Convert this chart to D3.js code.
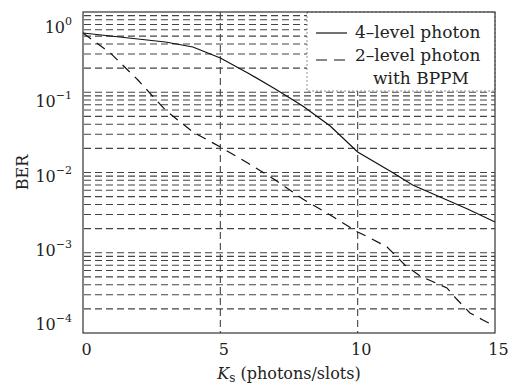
<!DOCTYPE html>
<html lang="en">
<head>
<meta charset="UTF-8">
<title>BER vs Ks</title>
<script src="https://d3js.org/d3.v7.min.js"></script>
<style>
	body { margin: 0; padding: 0; background: #fff; }
	text { font-family: "DejaVu Serif", "Liberation Serif", serif; fill: #222; }
</style>
</head>
<body>
<div id="chart"></div>
<script>
	// photon counts per slot
	const ksFour = [0, 1, 2, 3, 4, 5, 6, 7, 8, 9, 10, 11.3, 12, 13, 14, 15];
	const berFour = [0.547, 0.502, 0.461, 0.423, 0.366, 0.267, 0.174, 0.110, 0.0674, 0.038, 0.018, 0.00986, 0.00699, 0.00495, 0.00351, 0.00242];

	const ksTwo = [0, 1, 2, 3, 4, 5, 6, 7, 8, 9, 10, 10.45, 11.07, 11.36, 11.72, 12.27, 13.25, 13.6, 14.09, 14.56, 15];
	const berTwo = [0.547, 0.308, 0.142, 0.060, 0.032, 0.0208, 0.0131, 0.00807, 0.00468, 0.00295, 0.00181, 0.00153, 0.00118, 0.000938, 0.000704, 0.000513, 0.000364, 0.000265, 0.000178, 0.000145, 0.000122];

	const xTicks = [0, 5, 10, 15];
	const yExponents = [0, -1, -2, -3, -4];
	const legendLabels = ["4\u2013level photon", "2\u2013level photon", "with BPPM"];

	const width = 512, height = 386;
	const mLeft = 83, mRight = 495, mTop = 12, mBottom = 333;

	const svg = d3.select("#chart").append("svg")
		.attr("width", width)
		.attr("height", height);

	svg.append("rect").attr("width", width).attr("height", height).attr("fill", "#fff");

	const x = d3.scaleLinear().domain([0, 15]).range([mLeft, mRight]);
	const y = d3.scaleLog().domain([1e-4, 1]).range([mBottom, mTop]);
	// tick labels in the printed figure sit on an evenly spaced ladder of their own
	const yLabel = d3.scaleLinear().domain([-4, 0]).range([324, 27]);

	// horizontal grid (major + minor decades)
	const hGrid = y.ticks().filter(v => v > 1e-4 && v < 1);
	svg.append("g").selectAll("line")
		.data(hGrid)
		.enter().append("line")
		.attr("x1", mLeft + 1)
		.attr("x2", mRight)
		.attr("y1", d => y(d))
		.attr("y2", d => y(d))
		.attr("stroke", "#444")
		.attr("stroke-width", 1.1)
		.attr("stroke-dasharray", "7,4");

	// vertical grid
	svg.append("g").selectAll("line")
		.data([5, 10])
		.enter().append("line")
		.attr("x1", d => x(d))
		.attr("x2", d => x(d))
		.attr("y1", mTop)
		.attr("y2", mBottom)
		.attr("stroke", "#444")
		.attr("stroke-width", 1.1)
		.attr("stroke-dasharray", "7,4");

	const line = d3.line()
		.x(d => x(d[0]))
		.y(d => y(d[1]));

	svg.append("path")
		.datum(d3.zip(ksFour, berFour))
		.attr("d", line)
		.attr("fill", "none")
		.attr("stroke", "#111")
		.attr("stroke-width", 1.2);

	svg.append("path")
		.datum(d3.zip(ksTwo, berTwo))
		.attr("d", line)
		.attr("fill", "none")
		.attr("stroke", "#111")
		.attr("stroke-width", 1.2)
		.attr("stroke-dasharray", "10,7");

	// legend box
	const legend = svg.append("g");
	legend.append("rect")
		.attr("x", 307)
		.attr("y", mTop)
		.attr("width", mRight - 307)
		.attr("height", 79)
		.attr("fill", "#fff")
		.attr("stroke", "#777")
		.attr("stroke-width", 0.8)
		.attr("stroke-dasharray", "2,2");

	legend.append("line")
		.attr("x1", 316).attr("x2", 347)
		.attr("y1", 33).attr("y2", 33)
		.attr("stroke", "#111").attr("stroke-width", 1.2);
	legend.append("line")
		.attr("x1", 316).attr("x2", 347)
		.attr("y1", 60).attr("y2", 60)
		.attr("stroke", "#111").attr("stroke-width", 1.2)
		.attr("stroke-dasharray", "11,7");

	legend.selectAll("text")
		.data(legendLabels)
		.enter().append("text")
		.attr("x", (d, i) => i == 2 ? 373 : 355)
		.attr("y", (d, i) => 38 + i * 23)
		.attr("font-size", 17)
		.text(d => d);

	// frame
	svg.append("rect")
		.attr("x", mLeft)
		.attr("y", mTop)
		.attr("width", mRight - mLeft)
		.attr("height", mBottom - mTop)
		.attr("fill", "none")
		.attr("stroke", "#333")
		.attr("stroke-width", 1.2);

	// x axis labels
	const xAxis = svg.append("g")
		.attr("transform", `translate(0,${mBottom})`)
		.call(d3.axisBottom(x).tickValues(xTicks).tickSize(0).tickPadding(0).tickFormat(d3.format("d")));
	xAxis.select(".domain").remove();
	xAxis.selectAll("text")
		.attr("dy", null)
		.attr("y", 22)
		.attr("dx", 3)
		.attr("font-size", 16)
		.attr("font-family", "DejaVu Serif")
		.attr("fill", "#222");

	// y axis labels 10^n
	const yl = svg.append("g").selectAll("text")
		.data(yExponents)
		.enter().append("text")
		.attr("x", 72)
		.attr("y", d => yLabel(d) + 6)
		.attr("text-anchor", "end")
		.attr("font-size", 16);
	yl.append("tspan").text("10");
	yl.append("tspan")
		.attr("dy", -8)
		.attr("font-size", 11)
		.text(d => d == 0 ? "0" : "\u2212" + Math.abs(d));

	// axis titles
	svg.append("text")
		.attr("transform", `translate(28,${(mTop + mBottom) / 2}) rotate(-90)`)
		.attr("text-anchor", "middle")
		.attr("font-size", 16)
		.text("BER");

	const xt = svg.append("text")
		.attr("x", (mLeft + mRight) / 2)
		.attr("y", 379)
		.attr("text-anchor", "middle")
		.attr("font-size", 16);
	xt.append("tspan").attr("font-style", "italic").text("K");
	xt.append("tspan").attr("font-size", 12).attr("dy", 3).text("s");
	xt.append("tspan").attr("dy", -3).text(" (photons/slots)");
</script>
</body>
</html>
